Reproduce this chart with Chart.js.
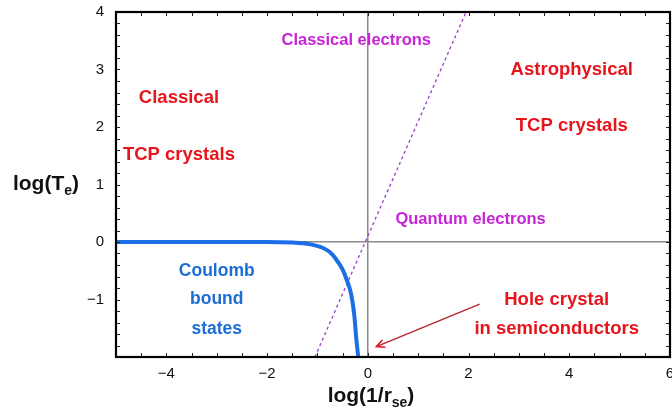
<!DOCTYPE html>
<html lang="en">
<head>
<meta charset="UTF-8">
<title>TCP crystals diagram</title>
<style>
  html, body { margin: 0; padding: 0; background: #fff; }
  #wrap { width: 672px; height: 414px; }
</style>
</head>
<body>
<div id="wrap"><canvas id="chart"></canvas></div>
<script src="https://cdn.jsdelivr.net/npm/chart.js"></script>
<script>
// Coulomb bound states boundary (blue curve)
const coulombX = [-5, -2, -1.5, -1.2, -0.9, -0.75, -0.63, -0.5, -0.43, -0.33, -0.27, -0.23, -0.19];
const coulombY = [0, 0, -0.01, -0.03, -0.1, -0.18, -0.3, -0.48, -0.63, -0.91, -1.26, -1.67, -2.0];

// classical / quantum electrons boundary (dashed)
const electronX = [-1.05, 1.95];
const electronY = [-2, 4];

// axis ticks
const xTickValues = [-4, -2, 0, 2, 4, 6];
const xTickLabels = ['\u22124', '\u22122', '0', '2', '4', '6'];
const yTickValues = [-1, 0, 1, 2, 3, 4];
const yTickLabels = ['\u22121', '0', '1', '2', '3', '4'];

// region labels, in data coordinates
const noteText  = ['Classical', 'TCP crystals', 'Astrophysical', 'TCP crystals', 'Coulomb', 'bound', 'states',
                   'Hole crystal', 'in semiconductors', 'Classical electrons', 'Quantum electrons'];
const noteX     = [-3.75, -3.75, 4.05, 4.05, -3.0, -3.0, -3.0, 3.75, 3.75, -0.23, 2.04];
const noteY     = [2.5, 1.52, 3.0, 2.02, -0.51, -1.0, -1.52, -1.0, -1.52, 3.5, 0.4];
const noteKind  = ['red', 'red', 'red', 'red', 'blue', 'blue', 'blue', 'red', 'red', 'purple', 'purple'];

// arrow pointing at the hole crystal region
const arrowFrom = [2.22, -1.08];
const arrowTo = [0.17, -1.82];

const kindStyle = {
    red:    { color: '#e8141c', font: 'bold 18.5px Arial, "Liberation Sans", sans-serif' },
    blue:   { color: '#1d6dd8', font: 'bold 17.5px Arial, "Liberation Sans", sans-serif' },
    purple: { color: '#c624d6', font: 'bold 16.5px Arial, "Liberation Sans", sans-serif' }
};

function zip(xs, ys) {
    return xs.map((v, i) => ({ x: v, y: ys[i] }));
}

function drawSub(ctx, parts, cx, cy, size) {
    const big = 'bold ' + size + 'px Arial, "Liberation Sans", sans-serif';
    const small = 'bold ' + Math.round(size * 0.66) + 'px Arial, "Liberation Sans", sans-serif';
    let total = 0;
    parts.forEach(p => { ctx.font = p[1] ? small : big; total += ctx.measureText(p[0]).width; });
    let px = cx - total / 2;
    ctx.textAlign = 'left';
    ctx.textBaseline = 'alphabetic';
    const base = cy + size * 0.36;
    parts.forEach(p => {
        ctx.font = p[1] ? small : big;
        ctx.fillText(p[0], px, p[1] ? base + size * 0.25 : base);
        px += ctx.measureText(p[0]).width;
    });
}

const overlay = {
    id: 'overlay',
    afterDatasetsDraw(chart) {
        const { ctx, chartArea: a, scales: { x, y } } = chart;
        ctx.save();

        // small inward ticks on all four sides
        ctx.strokeStyle = '#222';
        ctx.lineWidth = 1;
        ctx.beginPath();
        for (let v = x.min; v <= x.max + 1e-9; v += 0.5) {
            const px = Math.round(x.getPixelForValue(v)) + 0.5;
            ctx.moveTo(px, a.bottom); ctx.lineTo(px, a.bottom - 4);
            ctx.moveTo(px, a.top); ctx.lineTo(px, a.top + 4);
        }
        for (let v = y.min; v <= y.max + 1e-9; v += 0.2) {
            const py = Math.round(y.getPixelForValue(v)) + 0.5;
            ctx.moveTo(a.left, py); ctx.lineTo(a.left + 4, py);
            ctx.moveTo(a.right, py); ctx.lineTo(a.right - 4, py);
        }
        ctx.stroke();

        // frame
        ctx.strokeStyle = '#000';
        ctx.lineWidth = 2.2;
        ctx.strokeRect(a.left, a.top, a.right - a.left, a.bottom - a.top);

        // labels inside the plot
        ctx.textAlign = 'center';
        ctx.textBaseline = 'middle';
        noteText.forEach((t, i) => {
            const st = kindStyle[noteKind[i]];
            ctx.fillStyle = st.color;
            ctx.font = st.font;
            ctx.fillText(t, x.getPixelForValue(noteX[i]), y.getPixelForValue(noteY[i]));
        });

        // arrow
        const x1 = x.getPixelForValue(arrowFrom[0]), y1 = y.getPixelForValue(arrowFrom[1]);
        const x2 = x.getPixelForValue(arrowTo[0]), y2 = y.getPixelForValue(arrowTo[1]);
        const ang = Math.atan2(y2 - y1, x2 - x1);
        ctx.strokeStyle = '#b8262c';
        ctx.lineWidth = 1.4;
        ctx.beginPath();
        ctx.moveTo(x1, y1); ctx.lineTo(x2, y2);
        ctx.stroke();
        ctx.strokeStyle = '#e8141c';
        ctx.lineWidth = 1.6;
        ctx.beginPath();
        ctx.moveTo(x2 - 9 * Math.cos(ang - 0.45), y2 - 9 * Math.sin(ang - 0.45));
        ctx.lineTo(x2, y2);
        ctx.lineTo(x2 - 9 * Math.cos(ang + 0.45), y2 - 9 * Math.sin(ang + 0.45));
        ctx.stroke();

        // axis titles
        ctx.fillStyle = '#111';
        drawSub(ctx, [['log(T', false], ['e', true], [')', false]], 46, 182, 21);
        drawSub(ctx, [['log(1/r', false], ['se', true], [')', false]], 371, 394, 21);

        ctx.restore();
    }
};

function fixScale(size, key) {
    return function (s) {
        s[key] = size;
        s.paddingLeft = 0; s.paddingRight = 0; s.paddingTop = 0; s.paddingBottom = 0;
    };
}

new Chart(document.getElementById('chart'), {
    type: 'line',
    data: {
        datasets: [
            {
                data: zip(coulombX, coulombY),
                borderColor: '#1c6de6',
                borderWidth: 4,
                pointRadius: 0,
                cubicInterpolationMode: 'monotone',
                fill: false
            },
            {
                data: zip(electronX, electronY),
                borderColor: '#9b3cc6',
                borderWidth: 1.3,
                borderDash: [3, 3],
                pointRadius: 0,
                fill: false
            }
        ]
    },
    options: {
        responsive: true,
        maintainAspectRatio: false,
        animation: false,
        layout: { padding: { top: 12, right: 2, left: 0, bottom: 0 } },
        plugins: { legend: { display: false }, tooltip: { enabled: false } },
        scales: {
            x: {
                type: 'linear',
                min: -5,
                max: 6,
                afterBuildTicks: s => { s.ticks = xTickValues.map(v => ({ value: v })); },
                afterFit: fixScale(57, 'height'),
                ticks: {
                    autoSkip: false,
                    maxRotation: 0,
                    padding: 8,
                    color: '#111',
                    font: { family: 'Arial, "Liberation Sans", sans-serif', size: 15 },
                    callback: v => xTickLabels[xTickValues.indexOf(v)]
                },
                grid: {
                    drawTicks: false,
                    color: c => (c.tick && c.tick.value === 0 ? '#8a8a8a' : 'rgba(0,0,0,0)'),
                    lineWidth: 1.5
                },
                border: { display: false }
            },
            y: {
                type: 'linear',
                min: -2,
                max: 4,
                afterBuildTicks: s => { s.ticks = yTickValues.map(v => ({ value: v })); },
                afterFit: fixScale(116, 'width'),
                ticks: {
                    autoSkip: false,
                    padding: 12,
                    color: '#111',
                    font: { family: 'Arial, "Liberation Sans", sans-serif', size: 15 },
                    callback: v => yTickLabels[yTickValues.indexOf(v)]
                },
                grid: {
                    drawTicks: false,
                    color: c => (c.tick && c.tick.value === 0 ? '#8a8a8a' : 'rgba(0,0,0,0)'),
                    lineWidth: 1.5
                },
                border: { display: false }
            }
        }
    },
    plugins: [overlay]
});
</script>
</body>
</html>
